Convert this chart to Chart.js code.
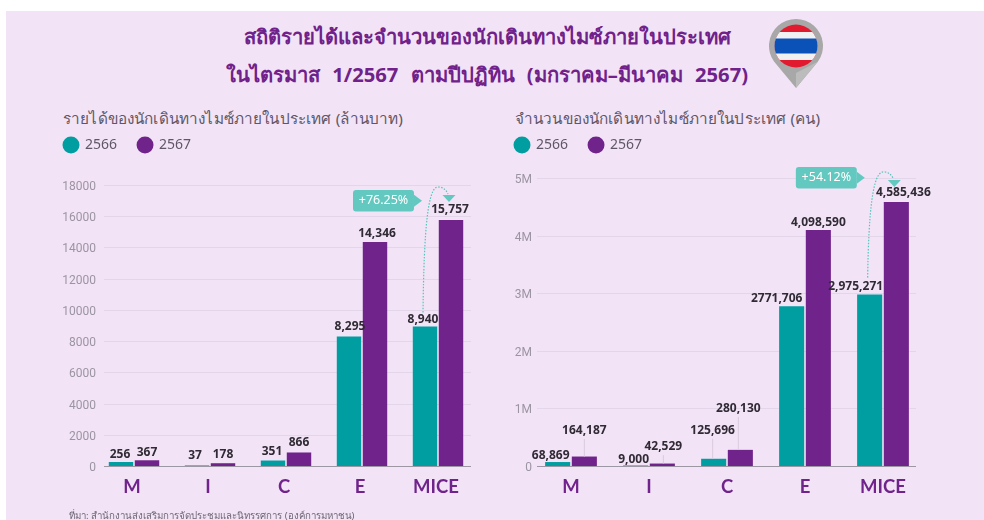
<!DOCTYPE html>
<html>
<head>
<meta charset="utf-8">
<script src="https://cdn.jsdelivr.net/npm/chart.js@4"></script>
<style>
html, body { margin: 0; padding: 0; background: #fff; }
body { width: 984px; height: 520px; position: relative; overflow: hidden; font-family: "Noto Sans", sans-serif; }
#panel { position: absolute; left: 6px; top: 11px; width: 978px; height: 509px; background: #f2e4f6; }
.title { position: absolute; left: 0; width: 974px; text-align: center; white-space: nowrap; color: #70218a; font-weight: 700; font-size: 20.2px; line-height: 30px; }
.sub { position: absolute; white-space: nowrap; color: #5f5768; font-size: 15.3px; letter-spacing: 0.15px; line-height: 22px; }
#source { position: absolute; left: 69px; top: 509px; white-space: nowrap; color: #6d6675; font-size: 9.7px; line-height: 14px; }
canvas { position: absolute; }
#pin { position: absolute; left: 760px; top: 14px; }
</style>
</head>
<body>
<div id="panel"></div>
<div class="title" style="top:21px">สถิติรายได้และจำนวนของนักเดินทางไมซ์ภายในประเทศ</div>
<div class="title" style="top:59px;word-spacing:7px">ในไตรมาส 1/2567 ตามปีปฏิทิน (มกราคม–มีนาคม 2567)</div>
<svg id="pin" width="72" height="76" viewBox="0 0 72 76">
  <path d="M36 74 L14 47.6 A27 27 0 1 1 58 47.6 Z" fill="#a8a8a8"/>
  <path d="M36 74 L36 59 L58 47.6 Z" fill="#bcbcbc"/>
  <clipPath id="flag"><circle cx="36" cy="32" r="21.5"/></clipPath>
  <g clip-path="url(#flag)">
    <rect x="10" y="10" width="52" height="44" fill="#e21a30"/>
    <rect x="10" y="18" width="52" height="28" fill="#f1f1f1"/>
    <rect x="10" y="24.5" width="52" height="15" fill="#0a52b8"/>
  </g>
</svg>
<div class="sub" style="left:63px;top:107px">รายได้ของนักเดินทางไมซ์ภายในประเทศ (ล้านบาท)</div>
<div class="sub" style="left:515px;top:107px">จำนวนของนักเดินทางไมซ์ภายในประเทศ (คน)</div>
<canvas id="revenueChart" style="left:43px;top:117px;width:433px;height:403px"></canvas>
<canvas id="travelerChart" style="left:494px;top:117px;width:452px;height:403px"></canvas>
<div id="source">ที่มา: สำนักงานส่งเสริมการจัดประชุมและนิทรรศการ (องค์การมหาชน)</div>
<script>
const categories = ["M", "I", "C", "E", "MICE"];
const years = ["2566", "2567"];

const revenue2566 = [256, 37, 351, 8295, 8940];
const revenue2567 = [367, 178, 866, 14346, 15757];
const revenueLabels2566 = ["256", "37", "351", "8,295", "8,940"];
const revenueLabels2567 = ["367", "178", "866", "14,346", "15,757"];

const travelers2566 = [68869, 9000, 125696, 2771706, 2975271];
const travelers2567 = [164187, 42529, 280130, 4098590, 4585436];
const travelerLabels2566 = ["68,869", "9,000", "125,696", "2771,706", "2,975,271"];
const travelerLabels2567 = ["164,187", "42,529", "280,130", "4,098,590", "4,585,436"];

const TEAL = "#009ea1";
const PURPLE = "#6f238b";
const GRID = "#e4d6ea";
const AXIS = "#9d97a3";
const TICK = "#9b94a2";
const FONT = '"Noto Sans", sans-serif';

// nudges for the value labels, [dx, dy] from the top centre of each bar
const revenueNudge = [
    [[-1, -7], [-2, -10], [-1, -8.5], [1, -10], [-2, -7]],
    [[0, -8], [0, -9], [0, -9.5], [2, -8], [-1, -10]]
];
const travelerNudge = [
    [[-7, -6], [-2, -5.5], [-1, -28], [-15, -8], [-14, -8]],
    [[0, -25.5], [1, -16.5], [-2, -41], [0, -7], [7, -9]]
];

const valueLabels = {
    id: "valueLabels",
    afterDatasetsDraw(chart, args, opts) {
        const ctx = chart.ctx;
        ctx.save();
        ctx.font = "bold 12px " + FONT;
        ctx.textAlign = "center";
        ctx.textBaseline = "middle";
        chart.data.datasets.forEach((ds, d) => {
            chart.getDatasetMeta(d).data.forEach((bar, i) => {
                const [dx, dy] = opts.nudge[d][i];
                if (dy < -12) {
                    // thin leader from the label down to the bar
                    ctx.strokeStyle = "#d9cade";
                    ctx.lineWidth = 1;
                    ctx.beginPath();
                    ctx.moveTo(bar.x + dx, bar.y + dy + 8);
                    ctx.lineTo(bar.x + dx, bar.y);
                    ctx.stroke();
                }
                ctx.fillStyle = "#2f2a33";
                ctx.fillText(opts.labels[d][i], bar.x + dx, bar.y + dy);
            });
        });
        ctx.restore();
    }
};

// grid stops short of the chart area on both sides, so it is drawn here from the y scale
const shortGrid = {
    id: "shortGrid",
    beforeDatasetsDraw(chart, args, opts) {
        const ctx = chart.ctx;
        const y = chart.scales.y;
        const { left, right } = chart.chartArea;
        ctx.save();
        ctx.lineWidth = 1;
        y.ticks.forEach((t) => {
            const py = Math.round(y.getPixelForValue(t.value)) + 0.5;
            ctx.strokeStyle = t.value === 0 ? AXIS : GRID;
            ctx.beginPath();
            ctx.moveTo(left + opts.insetLeft, py);
            ctx.lineTo(right - opts.insetRight, py);
            ctx.stroke();
        });
        ctx.restore();
    }
};

const growthCallout = {
    id: "growthCallout",
    afterDraw(chart, args, opts) {
        const ctx = chart.ctx;
        const teal = chart.getDatasetMeta(0).data[4];
        const purple = chart.getDatasetMeta(1).data[4];
        const px = purple.x - 13, py = purple.y - opts.peak;
        const sx = teal.x - 2, sy = teal.y - opts.start;
        ctx.save();

        ctx.strokeStyle = "#55c4bb";
        ctx.lineWidth = 1.2;
        ctx.setLineDash([1.5, 1.5]);
        ctx.beginPath();
        ctx.moveTo(sx, sy);
        ctx.bezierCurveTo(sx + 1, py + 40, sx + 5, py, px, py);
        ctx.quadraticCurveTo(purple.x - 6, py, purple.x - 3, py + 7);
        ctx.stroke();
        ctx.setLineDash([]);

        ctx.fillStyle = "#63c9c0";
        // arrow head above the 2567 bar
        const hx = purple.x - 2, hy = py + 8;
        ctx.beginPath();
        ctx.moveTo(hx - 6.5, hy);
        ctx.lineTo(hx + 6.5, hy);
        ctx.lineTo(hx, hy + 7);
        ctx.closePath();
        ctx.fill();

        const bx = purple.x - opts.boxLeft, by = purple.y - opts.boxTop, bw = 61, bh = 21.5;
        ctx.beginPath();
        ctx.roundRect(bx, by, bw, bh, 3);
        ctx.fill();
        ctx.beginPath();
        ctx.moveTo(bx + bw, by + bh / 2 - 6);
        ctx.lineTo(bx + bw + 8, by + bh / 2);
        ctx.lineTo(bx + bw, by + bh / 2 + 6);
        ctx.closePath();
        ctx.fill();

        ctx.fillStyle = "#fff";
        ctx.font = "12.5px " + FONT;
        ctx.textAlign = "center";
        ctx.textBaseline = "middle";
        ctx.fillText(opts.text, bx + bw / 2, by + bh / 2);
        ctx.restore();
    }
};

// the legend sits high with a fixed gap under it, fit() has no option for that
const legendGap = {
    id: "legendGap",
    beforeInit(chart, args, opts) {
        const fit = chart.legend.fit;
        chart.legend.fit = function () {
            fit.call(this);
            this.height = opts.height;
        };
    }
};

const makeChart = (id, values2566, values2567, cfg) => {
    const canvas = document.getElementById(id);
    canvas.width = cfg.width;
    canvas.height = 403;
    return new Chart(canvas, {
        type: "bar",
        data: {
            labels: categories,
            datasets: [
                { label: years[0], data: values2566, backgroundColor: TEAL },
                { label: years[1], data: values2567, backgroundColor: PURPLE }
            ]
        },
        options: {
            responsive: false,
            animation: false,
            categoryPercentage: 0.684,
            barPercentage: 0.94,
            layout: { padding: { right: cfg.rightPad } },
            plugins: {
                tooltip: { enabled: false },
                legend: {
                    align: "start",
                    labels: {
                        usePointStyle: true,
                        pointStyle: "circle",
                        boxWidth: 16,
                        boxHeight: 12,
                        padding: 21,
                        color: "#5f5768",
                        font: { family: FONT, size: 14 }
                    }
                },
                legendGap: { height: cfg.legendHeight },
                shortGrid: { insetLeft: cfg.insetLeft, insetRight: cfg.insetRight },
                valueLabels: { labels: cfg.labels, nudge: cfg.nudge },
                growthCallout: cfg.callout
            },
            scales: {
                x: {
                    grid: { display: false, drawTicks: false },
                    border: { display: false },
                    afterFit(scale) { scale.height = 54; },
                    ticks: {
                        color: PURPLE,
                        padding: 10,
                        labelOffset: cfg.xLabelOffset,
                        maxRotation: 0,
                        font: { family: "Lato", size: 18.5, weight: "bold" }
                    }
                },
                y: {
                    min: 0,
                    max: cfg.max,
                    grid: { display: false, drawTicks: false },
                    border: { display: false },
                    afterFit(scale) { scale.width = cfg.axisWidth; },
                    ticks: {
                        stepSize: cfg.step,
                        padding: 0,
                        labelOffset: 2,
                        color: TICK,
                        font: { family: "Roboto", size: 12 },
                        callback: cfg.tick
                    }
                }
            }
        },
        plugins: [legendGap, shortGrid, valueLabels, growthCallout]
    });
};

makeChart("revenueChart", revenue2566, revenue2567, {
    width: 433,
    rightPad: 0,
    xLabelOffset: -2,
    max: 18000,
    step: 2000,
    axisWidth: 53,
    insetLeft: 8,
    insetRight: 5,
    legendHeight: 68,
    tick: (v) => String(v),
    labels: [revenueLabels2566, revenueLabels2567],
    nudge: revenueNudge,
    callout: { text: "+76.25%", peak: 33, start: 14, boxLeft: 98, boxTop: 30 }
});

makeChart("travelerChart", travelers2566, travelers2567, {
    width: 452,
    rightPad: 24,
    xLabelOffset: 0,
    max: 5000000,
    step: 1000000,
    axisWidth: 38,
    insetLeft: 5,
    insetRight: 6,
    legendHeight: 61,
    tick: (v) => (v === 0 ? "0" : v / 1000000 + "M"),
    labels: [travelerLabels2566, travelerLabels2567],
    nudge: travelerNudge,
    callout: { text: "+54.12%", peak: 30, start: 17, boxLeft: 100.5, boxTop: 35 }
});
</script>
</body>
</html>
